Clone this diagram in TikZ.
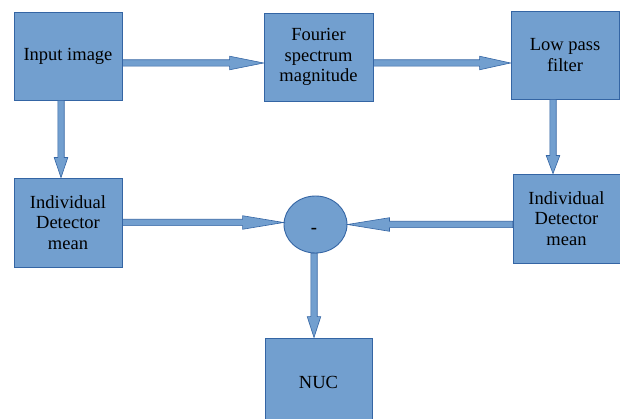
\documentclass[tikz,border=0pt]{standalone}
\usepackage{fontspec}
\newfontfamily\blockfont{Liberation Serif}
\usetikzlibrary{calc,shapes.geometric}
\definecolor{boxfill}{HTML}{729FCF}
\definecolor{boxline}{HTML}{3465A4}

% Block arrow from #2 to #3, head length #1
\newcommand\flowarrow[3][32pt]{%
  \coordinate (fa-b) at ($(#3)!#1!(#2)$);
  \filldraw[arrowbody]
    ($(#2)!3.2pt!90:(#3)$) -- ($(fa-b)!3.2pt!90:(#3)$) -- ($(fa-b)!6.8pt!90:(#3)$)
    -- (#3) -- ($(fa-b)!6.8pt!-90:(#3)$) -- ($(fa-b)!3.2pt!-90:(#3)$)
    -- ($(#2)!3.2pt!-90:(#3)$) -- cycle;}

\tikzset{
  block/.style={rectangle, fill=boxfill, draw=boxline, line width=0.9pt,
    inner sep=0pt, align=center, text=black,
    font=\blockfont\fontsize{18.5}{20.5}\selectfont},
  junction/.style={ellipse, fill=boxfill, draw=boxline, line width=0.9pt,
    inner sep=0pt, minimum width=63pt, minimum height=57pt},
  arrowbody/.style={fill=boxfill, draw=boxline, line width=0.6pt, line join=miter}
}

\begin{document}
\begin{tikzpicture}[x=1pt, y=-1pt]
  \useasboundingbox[fill=white] (0,0) rectangle (620,419);
  \clip (0,0) rectangle (620,419);

  % processing blocks
  \node[block, minimum width=108pt, minimum height=88pt] (inp) at (68,56) {Input image};
  \node[block, minimum width=109pt, minimum height=88pt] (four) at (318.5,57) {Fourier\\spectrum\\magnitude};
  \node[block, minimum width=108pt, minimum height=88pt] (low) at (565,55) {Low pass\\filter};
  \node[block, minimum width=108pt, minimum height=89pt] (idl) at (68,222.5) {Individual\\Detector\\mean};
  \node[block, minimum width=107pt, minimum height=89pt] (idr) at (566.5,218.5) {Individual\\Detector\\mean};
  \node[junction] (circ) at (315.5,224.5) {};
  \node[font=\blockfont\bfseries\fontsize{18.5}{20.5}\selectfont, inner sep=0pt] (minus) at (314,230.5) {-};
  \node[block, minimum width=107pt, minimum height=88pt] (nuc) at (318.5,382) {NUC};

  % arrow end points on the block edges
  \coordinate (a1s) at ([yshift=-7pt]inp.east);
  \coordinate (a1e) at (four.west |- a1s);
  \coordinate (a2s) at ([yshift=-6pt]four.east);
  \coordinate (a2e) at (low.west |- a2s);
  \coordinate (a3s) at ([xshift=-7pt]inp.south);
  \coordinate (a3e) at (idl.north -| a3s);
  \coordinate (a4s) at ([xshift=-12pt]low.south);
  \coordinate (a4e) at (idr.north -| a4s);
  \coordinate (a5e) at (circ.west |- idl.east);
  \coordinate (a6s) at (idr.west |- circ.east);
  \coordinate (a7s) at ([xshift=-1.5pt]circ.south);
  \coordinate (a7e) at (nuc.north -| a7s);

  % connectors
  \flowarrow[34pt]{a1s}{a1e}
  \flowarrow[31pt]{a2s}{a2e}
  \flowarrow[20pt]{a3s}{a3e}
  \flowarrow[18pt]{a4s}{a4e}
  \flowarrow[41pt]{idl.east}{a5e}
  \flowarrow[42pt]{a6s}{circ.east}
  \flowarrow[21pt]{a7s}{a7e}
\end{tikzpicture}
\end{document}
